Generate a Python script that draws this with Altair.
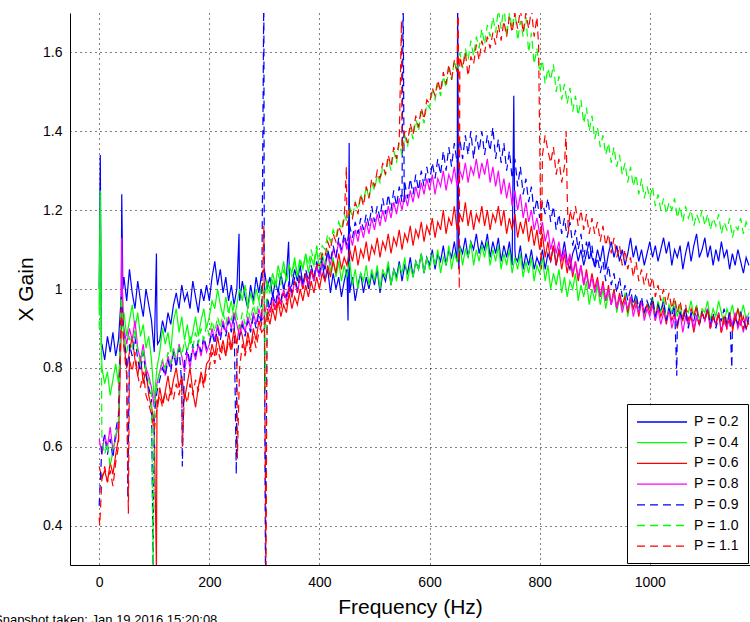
import altair as alt
import pandas as pd

# Frequency grid: one gain reading every 5 Hz, 0 .. 1180 Hz (one row = 100 Hz)
STEP_HZ = 5

series_labels = ["P = 0.2", "P = 0.4", "P = 0.6", "P = 0.8", "P = 0.9", "P = 1.0", "P = 1.1"]
series_colors = ["#0000ff", "#00ff00", "#ff0000", "#ff00ff", "#0000ff", "#00ff00", "#ff0000"]
series_dashes = [[1, 0], [1, 0], [1, 0], [1, 0], [8, 5], [8, 5], [8, 5]]

gain_p02 = [
    1.00, 0.86, 0.82, 0.88, 0.84, 0.89, 0.83, 0.87, 0.98, 1.03, 0.97, 1.05, 0.99, 0.95, 1.02, 0.97, 0.93, 1.00, 0.96, 0.92,
    0.84, 0.90, 0.87, 0.92, 0.89, 0.94, 0.91, 0.96, 0.99, 0.95, 1.01, 0.97, 0.99, 0.95, 1.02, 0.98, 0.94, 1.00, 0.97, 1.01,
    0.97, 1.03, 1.07, 1.01, 1.05, 0.99, 1.03, 0.97, 1.01, 0.96, 1.00, 0.97, 1.02, 0.98, 0.95, 1.01, 0.97, 1.03, 0.99, 1.04,
    1.05, 1.00, 1.03, 0.98, 1.02, 0.99, 1.04, 1.00, 1.03, 1.06, 1.01, 1.05, 1.02, 1.06, 1.01, 1.04, 1.00, 1.05, 1.02, 1.06,
    1.03, 1.07, 1.02, 1.05, 0.99, 1.04, 1.00, 1.03, 0.98, 1.02, 1.05, 0.99, 1.03, 0.97, 1.01, 1.04, 0.99, 1.03, 1.00, 1.04,
    1.01, 1.05, 0.99, 1.04, 1.02, 1.06, 1.01, 1.05, 1.03, 1.07, 1.02, 1.06, 1.04, 1.08, 1.03, 1.07, 1.05, 1.09, 1.04, 1.08,
    1.06, 1.10, 1.05, 1.09, 1.07, 1.11, 1.06, 1.10, 1.08, 1.12, 1.07, 1.11, 1.09, 1.13, 1.08, 1.12, 1.10, 1.14, 1.09, 1.12,
    1.10, 1.14, 1.08, 1.12, 1.09, 1.13, 1.07, 1.11, 1.08, 1.12, 1.06, 1.10, 1.07, 1.11, 1.05, 1.09, 1.06, 1.10, 1.05, 1.08,
    1.06, 1.10, 1.05, 1.09, 1.07, 1.11, 1.06, 1.10, 1.08, 1.12, 1.07, 1.05, 1.09, 1.11, 1.07, 1.10, 1.06, 1.09, 1.12, 1.08,
    1.06, 1.10, 1.07, 1.11, 1.05, 1.09, 1.12, 1.08, 1.11, 1.07, 1.10, 1.06, 1.09, 1.13, 1.08, 1.11, 1.07, 1.10, 1.06, 1.09,
    1.12, 1.08, 1.11, 1.07, 1.10, 1.13, 1.09, 1.12, 1.06, 1.10, 1.08, 1.11, 1.05, 1.09, 1.12, 1.07, 1.11, 1.14, 1.08, 1.10,
    1.13, 1.08, 1.11, 1.06, 1.10, 1.07, 1.12, 1.08, 1.10, 1.05, 1.09, 1.06, 1.10, 1.07, 1.04, 1.08, 1.06,
]
gain_p04 = [
    0.95, 0.80, 0.76, 0.79, 0.73, 0.77, 0.81, 0.76, 0.90, 0.94, 0.88, 0.92, 0.96, 0.90, 0.94, 0.88, 0.91, 0.85, 0.88, 0.82,
    0.72, 0.80, 0.84, 0.90, 0.86, 0.89, 0.84, 0.92, 0.95, 0.89, 0.93, 0.87, 0.91, 0.86, 0.89, 0.93, 0.88, 0.92, 0.95, 0.90,
    0.93, 0.97, 0.95, 1.00, 0.96, 0.93, 0.98, 0.94, 0.97, 0.92, 0.96, 1.00, 0.97, 1.01, 0.95, 0.99, 0.96, 1.00, 0.97, 1.01,
    0.98, 1.02, 1.00, 1.04, 1.01, 1.06, 1.03, 1.07, 1.02, 1.06, 1.04, 1.08, 1.03, 1.07, 1.05, 1.09, 1.04, 1.08, 1.06, 1.10,
    1.05, 1.09, 1.06, 1.10, 1.04, 1.08, 1.03, 1.07, 1.02, 1.06, 1.03, 1.07, 1.01, 1.05, 1.00, 1.04, 1.02, 1.06, 1.01, 1.05,
    1.02, 1.06, 1.00, 1.05, 1.03, 1.07, 1.01, 1.05, 1.02, 1.06, 1.04, 1.08, 1.02, 1.06, 1.03, 1.07, 1.05, 1.09, 1.04, 1.08,
    1.05, 1.09, 1.06, 1.10, 1.04, 1.08, 1.06, 1.11, 1.05, 1.09, 1.07, 1.11, 1.06, 1.10, 1.08, 1.12, 1.06, 1.10, 1.07, 1.11,
    1.08, 1.12, 1.06, 1.10, 1.07, 1.11, 1.05, 1.09, 1.06, 1.10, 1.04, 1.08, 1.05, 1.09, 1.03, 1.07, 1.04, 1.08, 1.02, 1.06,
    1.04, 1.08, 1.02, 1.06, 1.00, 1.04, 1.01, 1.05, 0.99, 1.03, 0.98, 1.02, 1.00, 1.04, 0.97, 1.01, 0.98, 1.02, 0.96, 1.00,
    0.97, 1.01, 0.96, 1.00, 0.95, 0.99, 0.96, 1.00, 0.94, 0.98, 0.95, 0.99, 0.93, 0.97, 0.95, 0.98, 0.94, 0.97, 0.93, 0.96,
    0.95, 0.98, 0.93, 0.97, 0.94, 0.98, 0.92, 0.96, 0.94, 0.97, 0.93, 0.96, 0.92, 0.95, 0.94, 0.97, 0.93, 0.96, 0.92, 0.95,
    0.94, 0.97, 0.92, 0.95, 0.93, 0.97, 0.94, 0.91, 0.95, 0.93, 0.96, 0.92, 0.95, 0.93, 0.96, 0.92, 0.94,
]
gain_p06 = [
    0.55, 0.52, 0.54, 0.51, 0.56, 0.53, 0.58, 0.62, 0.90, 0.86, 0.80, 0.84, 0.88, 0.82, 0.78, 0.83, 0.76, 0.80, 0.73, 0.70,
    0.66, 0.72, 0.75, 0.71, 0.74, 0.78, 0.73, 0.77, 0.80, 0.75, 0.78, 0.72, 0.76, 0.80, 0.74, 0.70, 0.75, 0.79, 0.76, 0.81,
    0.82, 0.86, 0.83, 0.88, 0.84, 0.87, 0.83, 0.89, 0.85, 0.90, 0.86, 0.91, 0.88, 0.84, 0.89, 0.85, 0.90, 0.87, 0.92, 0.89,
    0.90, 0.94, 0.91, 0.95, 0.92, 0.97, 0.93, 0.96, 0.94, 0.99, 0.95, 0.98, 0.96, 1.00, 0.97, 1.01, 0.98, 1.02, 0.99, 1.03,
    1.00, 1.04, 1.02, 1.06, 1.03, 1.07, 1.04, 1.09, 1.05, 1.08, 1.06, 1.10, 1.07, 1.11, 1.06, 1.10, 1.08, 1.12, 1.07, 1.11,
    1.09, 1.13, 1.08, 1.12, 1.10, 1.14, 1.09, 1.13, 1.11, 1.15, 1.10, 1.14, 1.12, 1.16, 1.11, 1.15, 1.13, 1.17, 1.12, 1.16,
    1.14, 1.18, 1.13, 1.17, 1.15, 1.20, 1.14, 1.18, 1.16, 1.21, 1.15, 1.19, 1.17, 1.22, 1.16, 1.20, 1.15, 1.19, 1.17, 1.21,
    1.16, 1.20, 1.15, 1.19, 1.17, 1.21, 1.16, 1.20, 1.14, 1.18, 1.15, 1.19, 1.13, 1.17, 1.14, 1.18, 1.12, 1.16, 1.11, 1.15,
    1.10, 1.14, 1.08, 1.12, 1.07, 1.11, 1.06, 1.10, 1.05, 1.09, 1.04, 1.08, 1.03, 1.07, 1.02, 1.06, 1.01, 1.05, 1.00, 1.04,
    1.00, 1.03, 0.98, 1.02, 0.97, 1.01, 0.96, 1.00, 0.95, 0.99, 0.96, 0.98, 0.94, 0.98, 0.95, 0.97, 0.93, 0.97, 0.94, 0.96,
    0.94, 0.97, 0.92, 0.96, 0.93, 0.95, 0.91, 0.95, 0.92, 0.94, 0.90, 0.94, 0.92, 0.95, 0.91, 0.93, 0.89, 0.93, 0.91, 0.94,
    0.92, 0.95, 0.90, 0.93, 0.91, 0.94, 0.89, 0.93, 0.91, 0.94, 0.90, 0.92, 0.95, 0.91, 0.93, 0.90, 0.92,
]
gain_p08 = [
    0.62, 0.58, 0.63, 0.60, 0.65, 0.59, 0.62, 0.66, 0.96, 0.90, 0.86, 0.90, 0.87, 0.92, 0.85, 0.82, 0.86, 0.80, 0.78, 0.75,
    0.70, 0.76, 0.79, 0.82, 0.78, 0.83, 0.80, 0.85, 0.81, 0.86, 0.83, 0.79, 0.84, 0.80, 0.85, 0.82, 0.86, 0.83, 0.87, 0.84,
    0.86, 0.90, 0.87, 0.91, 0.88, 0.92, 0.89, 0.93, 0.90, 0.94, 0.91, 0.88, 0.92, 0.89, 0.93, 0.90, 0.94, 0.91, 0.95, 0.92,
    0.93, 0.97, 0.94, 0.98, 0.95, 0.99, 0.96, 1.00, 0.97, 1.01, 0.98, 1.02, 0.99, 1.03, 1.00, 1.04, 1.01, 1.05, 1.02, 1.06,
    1.03, 1.07, 1.05, 1.09, 1.06, 1.10, 1.08, 1.12, 1.09, 1.13, 1.10, 1.14, 1.11, 1.15, 1.12, 1.16, 1.13, 1.17, 1.14, 1.18,
    1.15, 1.19, 1.16, 1.20, 1.17, 1.21, 1.18, 1.22, 1.19, 1.23, 1.20, 1.24, 1.21, 1.25, 1.22, 1.26, 1.23, 1.27, 1.24, 1.28,
    1.25, 1.29, 1.24, 1.28, 1.26, 1.30, 1.25, 1.29, 1.27, 1.31, 1.26, 1.30, 1.28, 1.32, 1.27, 1.31, 1.29, 1.33, 1.28, 1.32,
    1.29, 1.33, 1.27, 1.31, 1.26, 1.30, 1.24, 1.28, 1.23, 1.27, 1.21, 1.25, 1.20, 1.24, 1.18, 1.22, 1.17, 1.20, 1.15, 1.18,
    1.14, 1.17, 1.12, 1.15, 1.10, 1.13, 1.09, 1.12, 1.07, 1.10, 1.06, 1.09, 1.04, 1.07, 1.03, 1.06, 1.01, 1.04, 1.00, 1.03,
    0.99, 1.02, 0.98, 1.01, 0.97, 1.00, 0.96, 0.99, 0.95, 0.98, 0.94, 0.97, 0.95, 0.98, 0.93, 0.96, 0.94, 0.97, 0.92, 0.95,
    0.93, 0.96, 0.92, 0.95, 0.91, 0.94, 0.92, 0.95, 0.90, 0.93, 0.91, 0.94, 0.89, 0.93, 0.91, 0.94, 0.90, 0.93, 0.91, 0.94,
    0.92, 0.95, 0.90, 0.93, 0.91, 0.94, 0.89, 0.92, 0.90, 0.93, 0.91, 0.94, 0.90, 0.92, 0.89, 0.93, 0.91,
]
gain_p09 = [
    0.45, 0.60, 0.63, 0.58, 0.62, 0.57, 0.64, 0.68, 0.98, 0.88, 0.82, 0.86, 0.83, 0.88, 0.82, 0.79, 0.84, 0.78, 0.75, 0.72,
    0.68, 0.74, 0.77, 0.80, 0.78, 0.82, 0.79, 0.84, 0.80, 0.85, 0.76, 0.82, 0.85, 0.81, 0.86, 0.83, 0.87, 0.84, 0.88, 0.85,
    0.86, 0.89, 0.86, 0.90, 0.87, 0.91, 0.88, 0.92, 0.89, 0.93, 0.82, 0.88, 0.91, 0.88, 0.92, 0.89, 0.93, 0.90, 0.94, 0.91,
    0.95, 0.98, 0.95, 0.99, 0.96, 1.00, 0.97, 1.01, 0.98, 1.02, 0.99, 1.03, 1.00, 1.04, 1.01, 1.05, 1.02, 1.06, 1.03, 1.07,
    1.04, 1.08, 1.05, 1.10, 1.07, 1.11, 1.08, 1.13, 1.10, 1.14, 1.11, 1.16, 1.13, 1.17, 1.14, 1.18, 1.15, 1.19, 1.16, 1.21,
    1.17, 1.21, 1.18, 1.23, 1.19, 1.24, 1.20, 1.25, 1.21, 1.26, 1.22, 1.27, 1.23, 1.28, 1.24, 1.29, 1.25, 1.30, 1.26, 1.31,
    1.27, 1.32, 1.28, 1.33, 1.29, 1.35, 1.30, 1.36, 1.31, 1.37, 1.32, 1.38, 1.33, 1.39, 1.34, 1.40, 1.33, 1.39, 1.35, 1.40,
    1.34, 1.39, 1.35, 1.41, 1.33, 1.38, 1.32, 1.37, 1.30, 1.35, 1.28, 1.33, 1.26, 1.31, 1.24, 1.28, 1.22, 1.26, 1.19, 1.23,
    1.18, 1.22, 1.19, 1.23, 1.17, 1.21, 1.15, 1.19, 1.14, 1.18, 1.13, 1.17, 1.11, 1.15, 1.10, 1.14, 1.08, 1.12, 1.07, 1.11,
    1.05, 1.08, 1.04, 1.07, 1.02, 1.06, 1.01, 1.04, 0.99, 1.03, 0.98, 1.01, 0.97, 1.00, 0.96, 0.99, 0.95, 0.98, 0.94, 0.97,
    0.95, 0.98, 0.93, 0.96, 0.94, 0.97, 0.92, 0.95, 0.93, 0.96, 0.91, 0.94, 0.92, 0.95, 0.90, 0.94, 0.92, 0.95, 0.91, 0.94,
    0.92, 0.95, 0.91, 0.94, 0.90, 0.93, 0.92, 0.95, 0.91, 0.94, 0.90, 0.93, 0.91, 0.94, 0.92, 0.90, 0.93,
]
gain_p10 = [
    0.90, 0.62, 0.58, 0.61, 0.55, 0.59, 0.63, 0.66, 0.98, 0.88, 0.84, 0.88, 0.85, 0.90, 0.84, 0.81, 0.85, 0.79, 0.77, 0.74,
    0.70, 0.76, 0.79, 0.82, 0.80, 0.84, 0.81, 0.85, 0.82, 0.86, 0.83, 0.87, 0.84, 0.88, 0.85, 0.89, 0.86, 0.90, 0.87, 0.91,
    0.88, 0.92, 0.89, 0.93, 0.90, 0.94, 0.91, 0.95, 0.92, 0.96, 0.93, 0.90, 0.94, 0.91, 0.95, 0.92, 0.96, 0.93, 0.97, 0.94,
    0.98, 1.01, 0.99, 1.02, 1.00, 1.04, 1.01, 1.05, 1.02, 1.06, 1.03, 1.07, 1.04, 1.08, 1.05, 1.09, 1.06, 1.10, 1.07, 1.11,
    1.08, 1.11, 1.10, 1.14, 1.12, 1.15, 1.13, 1.17, 1.15, 1.19, 1.17, 1.21, 1.18, 1.22, 1.20, 1.24, 1.22, 1.26, 1.23, 1.27,
    1.25, 1.29, 1.27, 1.31, 1.29, 1.33, 1.30, 1.35, 1.32, 1.37, 1.34, 1.39, 1.36, 1.41, 1.38, 1.43, 1.40, 1.45, 1.42, 1.47,
    1.46, 1.50, 1.48, 1.52, 1.49, 1.54, 1.51, 1.56, 1.53, 1.58, 1.55, 1.60, 1.56, 1.61, 1.58, 1.63, 1.59, 1.64, 1.61, 1.66,
    1.62, 1.67, 1.64, 1.69, 1.65, 1.71, 1.66, 1.72, 1.64, 1.70, 1.66, 1.71, 1.63, 1.68, 1.64, 1.69, 1.60, 1.65, 1.57, 1.61,
    1.55, 1.58, 1.52, 1.56, 1.53, 1.57, 1.50, 1.54, 1.48, 1.52, 1.47, 1.51, 1.45, 1.49, 1.44, 1.48, 1.42, 1.46, 1.40, 1.44,
    1.38, 1.41, 1.36, 1.39, 1.34, 1.37, 1.32, 1.36, 1.31, 1.34, 1.29, 1.32, 1.27, 1.31, 1.26, 1.29, 1.24, 1.28, 1.23, 1.26,
    1.23, 1.26, 1.21, 1.24, 1.20, 1.23, 1.19, 1.22, 1.20, 1.23, 1.18, 1.21, 1.17, 1.21, 1.18, 1.20, 1.16, 1.19, 1.17, 1.20,
    1.16, 1.19, 1.15, 1.18, 1.16, 1.19, 1.14, 1.17, 1.15, 1.18, 1.13, 1.16, 1.15, 1.18, 1.14, 1.17, 1.15,
]
gain_p11 = [
    0.42, 0.52, 0.55, 0.51, 0.54, 0.50, 0.56, 0.60, 0.95, 0.85, 0.78, 0.82, 0.79, 0.84, 0.78, 0.75, 0.79, 0.73, 0.71, 0.68,
    0.64, 0.70, 0.73, 0.70, 0.74, 0.71, 0.75, 0.72, 0.76, 0.73, 0.77, 0.74, 0.71, 0.76, 0.73, 0.77, 0.74, 0.78, 0.75, 0.79,
    0.80, 0.84, 0.81, 0.85, 0.82, 0.86, 0.83, 0.87, 0.84, 0.88, 0.85, 0.80, 0.86, 0.83, 0.87, 0.84, 0.88, 0.85, 0.89, 0.91,
    0.92, 0.95, 0.93, 0.97, 0.94, 0.98, 0.95, 0.99, 0.96, 1.00, 0.98, 1.02, 0.99, 1.03, 1.00, 1.04, 1.01, 1.05, 1.03, 1.06,
    1.06, 1.09, 1.08, 1.12, 1.10, 1.14, 1.12, 1.16, 1.14, 1.18, 1.16, 1.20, 1.18, 1.22, 1.19, 1.24, 1.21, 1.26, 1.23, 1.28,
    1.26, 1.30, 1.28, 1.32, 1.29, 1.34, 1.31, 1.36, 1.33, 1.38, 1.35, 1.40, 1.37, 1.42, 1.39, 1.44, 1.41, 1.46, 1.43, 1.48,
    1.47, 1.51, 1.49, 1.53, 1.50, 1.55, 1.52, 1.57, 1.53, 1.58, 1.55, 1.59, 1.56, 1.60, 1.54, 1.59, 1.57, 1.62, 1.58, 1.63,
    1.60, 1.64, 1.61, 1.65, 1.62, 1.67, 1.63, 1.68, 1.64, 1.69, 1.65, 1.70, 1.66, 1.71, 1.65, 1.70, 1.66, 1.71, 1.64, 1.69,
    1.38, 1.34, 1.39, 1.35, 1.32, 1.36, 1.29, 1.33, 1.27, 1.31, 1.24, 1.20, 1.17, 1.21, 1.16, 1.20, 1.15, 1.19, 1.14, 1.18,
    1.14, 1.17, 1.12, 1.16, 1.11, 1.14, 1.09, 1.13, 1.08, 1.11, 1.06, 1.10, 1.05, 1.08, 1.03, 1.07, 1.02, 1.05, 1.01, 1.04,
    1.00, 1.03, 0.98, 1.01, 0.97, 1.00, 0.96, 0.99, 0.95, 0.98, 0.94, 0.97, 0.93, 0.96, 0.92, 0.95, 0.93, 0.96, 0.91, 0.94,
    0.92, 0.95, 0.90, 0.93, 0.91, 0.94, 0.89, 0.93, 0.90, 0.92, 0.89, 0.93, 0.91, 0.94, 0.90, 0.92, 0.91,
]

# Narrow spikes and dropouts between grid points (frequency Hz, gain)
spike_hz_p02 = [2, 4, 41, 43, 104, 106, 254, 256, 344, 346, 452, 454, 456, 651, 653, 753, 756]
spike_gain_p02 = [1.34, 0.86, 1.24, 1.00, 1.09, 0.86, 1.14, 0.98, 1.12, 1.00, 0.92, 1.37, 1.00, 1.76, 1.05, 1.49, 1.08]
spike_hz_p04 = [2, 4]
spike_gain_p04 = [1.25, 0.86]
spike_hz_p06 = [41, 104, 106]
spike_gain_p06 = [1.05, 0.28, 0.70]
spike_hz_p08 = [41, 43]
spike_gain_p08 = [1.13, 0.92]
spike_hz_p09 = [52, 98, 151, 249, 299, 302, 552, 554, 1049, 1149]
spike_gain_p09 = [0.47, 0.28, 0.55, 0.53, 1.76, 0.26, 1.78, 1.22, 0.78, 0.80]
spike_hz_p10 = [2, 98, 302]
spike_gain_p10 = [1.20, 0.28, 0.74]
spike_hz_p11 = [1, 53, 151, 251, 299, 303, 449, 549, 652, 654, 798, 803, 848, 852]
spike_gain_p11 = [0.40, 0.43, 0.60, 0.57, 1.16, 0.28, 1.31, 1.68, 1.76, 1.00, 1.62, 1.05, 1.40, 1.14]

x_ticks = [0, 200, 400, 600, 800, 1000]
y_ticks = [0.4, 0.6, 0.8, 1.0, 1.2, 1.4, 1.6]

traces = [
    (gain_p02, spike_hz_p02, spike_gain_p02),
    (gain_p04, spike_hz_p04, spike_gain_p04),
    (gain_p06, spike_hz_p06, spike_gain_p06),
    (gain_p08, spike_hz_p08, spike_gain_p08),
    (gain_p09, spike_hz_p09, spike_gain_p09),
    (gain_p10, spike_hz_p10, spike_gain_p10),
    (gain_p11, spike_hz_p11, spike_gain_p11),
]

rows = []
for k, (label, (grid, s_hz, s_gain)) in enumerate(zip(series_labels, traces)):
    for i, g in enumerate(grid):
        rows.append({"series": label, "k": k, "freq": i * STEP_HZ, "gain": g})
    for f, g in zip(s_hz, s_gain):
        rows.append({"series": label, "k": k, "freq": f, "gain": g})
df = pd.DataFrame(rows).sort_values(["k", "freq"]).reset_index(drop=True)

FONT = "Liberation Sans"

lines = alt.Chart(df).mark_line(strokeWidth=1.2, clip=True).encode(
    x=alt.X(
        "freq:Q",
        scale=alt.Scale(domain=[-53, 1182], nice=False, zero=False),
        axis=alt.Axis(values=x_ticks, title="Frequency (Hz)", format="d",
                      labelPadding=10, titlePadding=7),
    ),
    y=alt.Y(
        "gain:Q",
        scale=alt.Scale(domain=[0.3, 1.7], nice=False, zero=False),
        axis=alt.Axis(values=y_ticks, title="X Gain", format="~g",
                      labelPadding=8, titlePadding=6),
    ),
    color=alt.Color("series:N", scale=alt.Scale(domain=series_labels, range=series_colors), title=None),
    strokeDash=alt.StrokeDash("series:N", scale=alt.Scale(domain=series_labels, range=series_dashes), title=None),
    detail="k:O",
)

stamp = alt.Chart(pd.DataFrame({"t": ["Snapshot taken:  Jan 19 2016 15:20:08"]})).mark_text(
    align="left", baseline="alphabetic", fontSize=13, font=FONT, color="black", clip=False
).encode(x=alt.value(-76), y=alt.value(611), text="t:N")

chart = (
    alt.layer(lines, stamp)
    .properties(
        width=680,
        height=552,
        autosize="none",
        padding={"left": 70, "top": 13, "right": 0, "bottom": 57},
        background="white",
    )
    .configure_view(stroke=None)
    .configure_axis(
        grid=True,
        gridColor="black",
        gridDash=[1, 4],
        gridWidth=1,
        gridOpacity=1,
        domainColor="black",
        domainWidth=1,
        ticks=False,
        labelFont=FONT,
        labelFontSize=14,
        labelColor="black",
        titleFont=FONT,
        titleFontSize=21,
        titleFontWeight="normal",
        titleColor="black",
    )
    .configure_legend(
        orient="none",
        legendX=557,
        legendY=391,
        symbolType="M-1,0H5.25",
        symbolSize=256,
        symbolStrokeWidth=1.3,
        symbolOpacity=1,
        labelFont=FONT,
        labelFontSize=14,
        labelColor="black",
        labelOffset=40,
        labelLimit=200,
        rowPadding=4.7,
        padding=9,
        fillColor="white",
        strokeColor="black",
        cornerRadius=0,
    )
)

chart.save("out.html", embed_options={"renderer": "svg", "actions": False})
